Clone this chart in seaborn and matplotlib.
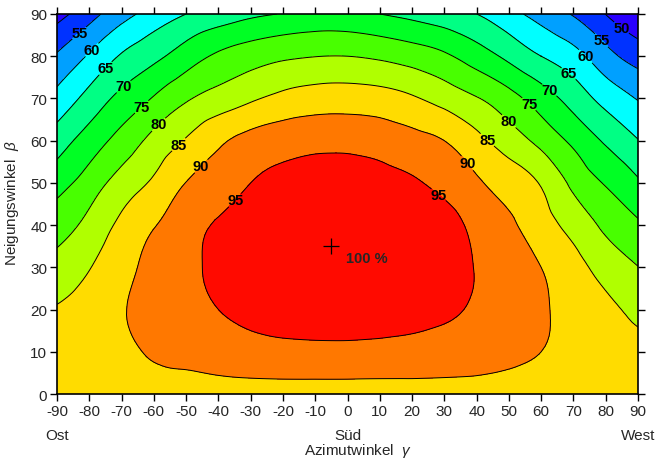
import numpy as np
import pandas as pd
import seaborn as sns
import matplotlib.pyplot as plt
import matplotlib.tri as mtri

# Azimut (Ost = -90, Sued = 0, West = 90) und Neigungswinkel in Grad
azimut = [-90, -80, -70, -60, -50, -40, -30, -20, -10, 0, 10, 20, 30, 40, 50, 60, 70, 80, 90]
neigung = [0, 10, 20, 30, 40, 50, 60, 70, 80, 90]

# Einstrahlung in % vom Optimum, je Neigungswinkel eine Zeile
n00 = [88.0, 88.0, 88.0, 88.0, 88.0, 88.0, 88.0, 88.0, 88.0, 88.0, 88.0, 88.0, 88.0, 88.0, 88.0, 88.0, 88.0, 88.0, 88.0]
n10 = [87.2, 87.7, 88.8, 90.6, 91.5, 92.4, 93.1, 93.5, 93.6, 93.6, 93.4, 93.2, 92.8, 92.2, 91.1, 90.0, 88.7, 87.4, 86.6]
n20 = [85.4, 87.1, 89.6, 91.9, 93.8, 95.0, 96.3, 97.3, 97.9, 98.0, 97.6, 96.7, 95.7, 94.4, 92.4, 90.5, 88.5, 86.2, 83.7]
n30 = [81.8, 84.8, 88.3, 91.6, 94.0, 96.0, 97.9, 99.0, 99.6, 99.6, 99.0, 98.0, 96.6, 94.8, 92.6, 90.0, 86.8, 83.1, 80.1]
n40 = [77.8, 81.5, 86.1, 89.7, 93.0, 95.5, 97.6, 99.0, 99.6, 99.6, 99.2, 98.3, 96.8, 93.8, 90.9, 87.2, 83.3, 78.9, 75.7]
n50 = [73.0, 77.3, 82.1, 85.8, 90.1, 92.5, 95.0, 96.5, 97.5, 97.6, 96.8, 95.6, 93.6, 90.7, 87.8, 84.6, 78.8, 74.6, 70.7]
n60 = [67.6, 72.3, 76.9, 81.5, 85.4, 89.1, 91.6, 92.9, 93.5, 93.5, 92.9, 91.6, 90.0, 86.4, 82.6, 78.5, 73.9, 69.3, 65.2]
n70 = [61.6, 66.7, 71.4, 75.4, 79.4, 82.0, 84.3, 86.3, 87.4, 87.6, 87.1, 85.6, 83.1, 80.3, 76.8, 72.5, 68.0, 63.3, 59.7]
n80 = [55.6, 60.6, 65.5, 68.8, 72.5, 75.8, 77.8, 79.2, 79.9, 80.0, 79.2, 77.8, 75.8, 72.5, 68.8, 65.0, 61.8, 56.8, 52.9]
n90 = [48.3, 53.0, 58.2, 61.9, 65.0, 66.8, 69.0, 70.2, 71.3, 71.2, 70.0, 68.6, 66.8, 65.0, 61.6, 58.1, 54.6, 49.9, 45.8]

# Optimum
opt_az, opt_neig = -5, 35

stufen = [40, 50, 55, 60, 65, 70, 75, 80, 85, 90, 95, 101]
farben = ['#2a00ff', '#0032ff', '#00a0ff', '#00ffff', '#00ff84', '#00ff24',
          '#48ff00', '#b0ff00', '#ffdc00', '#ff7800', '#ff0a00']

# Linien und wo sie beschriftet werden
beschr = {
    50: [(85.0, 86.9)],
    55: [(-82.9, 85.3), (79.1, 84.1)],
    60: [(-78.8, 81.2), (73.9, 80.1)],
    65: [(-74.8, 77.0), (68.9, 76.3)],
    70: [(-69.6, 73.0), (63.0, 72.4)],
    75: [(-64.0, 68.2), (56.5, 68.9)],
    80: [(-58.4, 63.7), (50.0, 64.6)],
    85: [(-52.2, 59.0), (43.2, 60.1)],
    90: [(-44.5, 53.3), (36.0, 54.0)],
    95: [(-35.5, 46.4), (27.7, 46.7)],
}

df = pd.DataFrame([n00, n10, n20, n30, n40, n50, n60, n70, n80, n90], index=neigung, columns=azimut)

sns.set_style('ticks')
plt.rcParams['font.family'] = ['Liberation Sans', 'DejaVu Sans']
plt.rcParams['axes.unicode_minus'] = False
plt.rcParams['mathtext.fontset'] = 'custom'
plt.rcParams['mathtext.it'] = 'Liberation Sans:italic'

fig = plt.figure(figsize=(6.6, 4.6), dpi=100)
ax = fig.add_axes([0.0864, 0.1413, 0.8803, 0.8261])

# Gitter -> Dreiecke, matplotlib glaettet die Linien selbst
AZ, NG = np.meshgrid(df.columns.values, df.index.values)
tri = mtri.Triangulation(AZ.ravel().astype(float), NG.ravel().astype(float))
tri_f, z_f = mtri.UniformTriRefiner(tri).refine_field(df.values.ravel(), subdiv=3)

ax.tricontourf(tri_f, z_f, levels=stufen, colors=farben)

# jede Linie einzeln, damit die Beschriftung an der richtigen Linie landet
for lev, pos in beschr.items():
    cs = ax.tricontour(tri_f, z_f, levels=[lev], colors='k', linewidths=0.7)
    txts = ax.clabel(cs, manual=pos, fmt='%d', fontsize=10.5, inline=True, inline_spacing=1)
    for t in txts:
        t.set_rotation(0)
        t.set_fontweight('bold')

ax.plot(opt_az, opt_neig, marker='+', color='k', markersize=11, markeredgewidth=0.9)
ax.text(opt_az + 4.5, opt_neig - 2.8, '100 %', fontsize=10.5, fontweight='bold', va='center', ha='left')

ax.set_xlim(-90, 90)
ax.set_ylim(0, 90)
ax.set_xticks(range(-90, 91, 10))
ax.set_yticks(range(0, 91, 10))
ax.tick_params(direction='out', length=5, width=1, labelsize=11, color='k',
               top=True, right=True, labeltop=False, labelright=False, pad=2)
for s in ax.spines.values():
    s.set_linewidth(1.2)
    s.set_color('k')

trans = ax.get_xaxis_transform()
ax.text(-90, -0.107, 'Ost', transform=trans, ha='center', va='center', fontsize=11)
ax.text(0, -0.107, 'Süd', transform=trans, ha='center', va='center', fontsize=11)
ax.text(90, -0.107, 'West', transform=trans, ha='center', va='center', fontsize=11)
fig.text(358 / 660, 1 - 451 / 460, r'Azimutwinkel  $\gamma$', ha='center', va='center', fontsize=11)
fig.text(12 / 660, 1 - 203 / 460, r'Neigungswinkel  $\beta$', ha='center', va='center', rotation=90, fontsize=11)

plt.savefig('out.png', dpi=100)
